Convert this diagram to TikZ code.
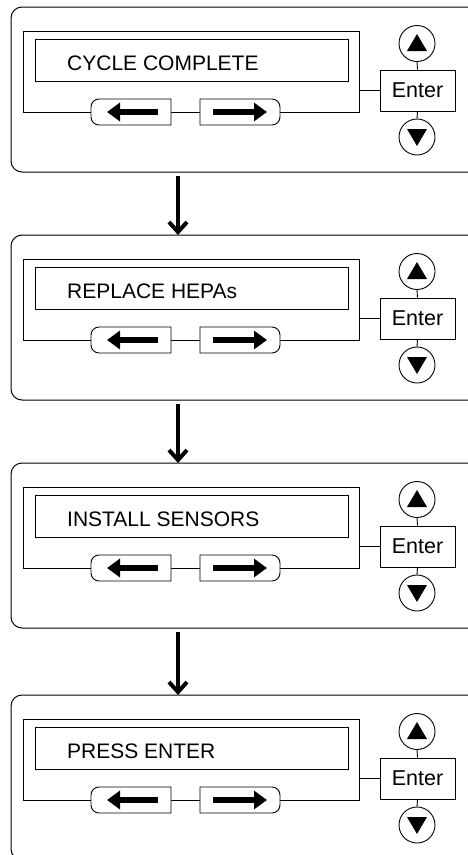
\documentclass[tikz,border=0pt]{standalone}
\usepackage{fontspec}
\setmainfont{Liberation Sans}
\usetikzlibrary{arrows.meta}
\tikzset{
  ln/.style={line width=0.9pt},
  outerbox/.style={draw, line width=1pt, rounded corners=11},
  dispouter/.style={draw, ln, minimum width=336pt, minimum height=81pt, inner sep=0pt, anchor=north west},
  dispinner/.style={draw, ln, minimum width=313pt, minimum height=42pt, inner sep=0pt, anchor=north west},
  disptext/.style={font=\fontsize{21}{25}\selectfont, inner sep=0pt, anchor=base west},
  enterbox/.style={draw, ln, fill=white, minimum width=75pt, minimum height=41pt, inner sep=0pt, font=\fontsize{21.5}{25}\selectfont},
  roundbtn/.style={draw, ln, circle, fill=white, minimum size=36pt, inner sep=0pt},
  btn/.style={draw, ln, fill=white},
  btnarrow/.style={line width=5.5pt, -{Triangle[length=13pt,width=18pt]}},
  flow/.style={line width=4pt, -{Straight Barb[length=10pt,width=18pt]}}
}
\newcommand{\dpanel}[3]{%
\begin{scope}[shift={(0,#2)}]
  \coordinate (#1top) at (178,0);
  \coordinate (#1bot) at (178,165);
  \draw[outerbox] (495,0) -- (11,0) -- (11,165) -- (495,165);
  \node[dispouter] (#1d) at (23,24) {};
  \node[dispinner] (#1i) at (35,32) {};
  \node[disptext] (#1t) at (67,63.5) {#3};
  % left button
  \draw[btn] (171,92) -- (99,92) arc[start angle=-90, end angle=-180, radius=8] -- (91,110)
     arc[start angle=180, end angle=90, radius=8] -- (171,118) -- cycle;
  % right button
  \draw[btn] (200,92) -- (272,92) arc[start angle=-90, end angle=0, radius=8] -- (280,110)
     arc[start angle=0, end angle=90, radius=8] -- (200,118) -- cycle;
  \coordinate (#1la) at (158,105); \coordinate (#1lb) at (107,105);
  \coordinate (#1ra) at (213,105); \coordinate (#1rb) at (267,105);
  \draw[btnarrow] (#1la) -- (#1lb);
  \draw[btnarrow] (#1ra) -- (#1rb);
  \node[enterbox] (#1e) at (417.5,83.5) {Enter};
  \node[roundbtn] (#1u) at (417,36.5) {};
  \node[roundbtn] (#1w) at (417,130) {};
  \fill (407,44) -- (427,44) -- (417,27) -- cycle;
  \fill (407,122) -- (427,122) -- (417,139) -- cycle;
  \draw[ln] (#1d.east |- #1e.west) -- (#1e.west);
  \draw[ln] (#1u.south) -- (#1e.north);
  \draw[ln] (#1e.south) -- (#1w.north);
\end{scope}}
\begin{document}
\begin{tikzpicture}[x=1pt,y=-1pt]
  \useasboundingbox (0,0) rectangle (468,855);
  \clip (0,0) rectangle (468,855);
  \dpanel{pa}{7}{CYCLE COMPLETE}
  \dpanel{pb}{235}{REPLACE HEPAs}
  \dpanel{pc}{463}{INSTALL SENSORS}
  \dpanel{pd}{695}{PRESS ENTER}
  \draw[flow] ([yshift=-4pt]pabot) -- (pbtop);
  \draw[flow] ([yshift=-4pt]pbbot) -- (pctop);
  \draw[flow] ([yshift=-4pt]pcbot) -- (pdtop);
\end{tikzpicture}
\end{document}
